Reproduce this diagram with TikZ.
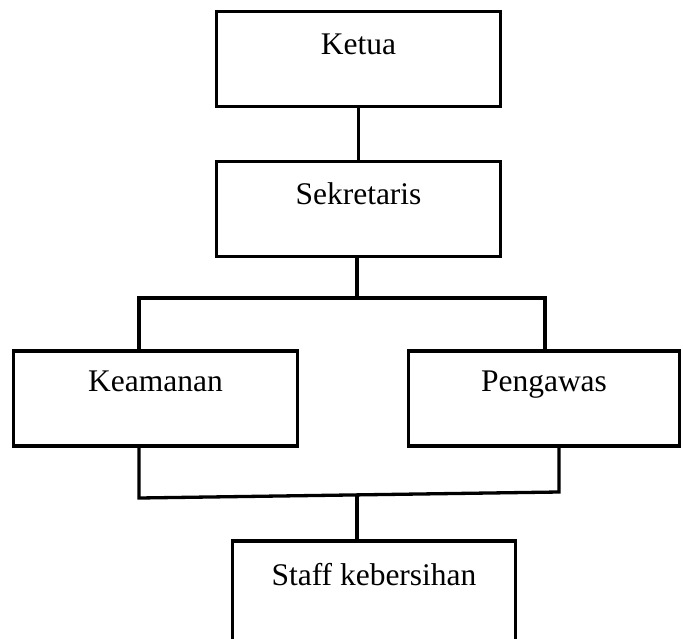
\documentclass[tikz,border=0pt]{standalone}
\usepackage{fontspec}
\setmainfont{Liberation Serif}
\begin{document}
\begin{tikzpicture}[x=1pt,y=-1pt,
    box/.style={draw,line width=3.3pt,inner sep=0pt,minimum width=284pt,text height=43pt,text depth=52pt,font=\fontsize{31.5}{38}\selectfont},
    link/.style={line width=3.3pt}]
  \useasboundingbox (0,0) rectangle (683,638);
  \node[box] (ketua) at (358.5,59) {Ketua};
  \node[box] (sekretaris) at (358.5,209) {Sekretaris};
  \node[box,text height=40pt,text depth=55pt] (keamanan) at (155.5,398.5) {Keamanan};
  \node[box,minimum width=271pt,text height=40pt,text depth=55pt] (pengawas) at (544,398.5) {Pengawas};
  \node[box,minimum width=283pt,text height=44pt,text depth=60pt] (staff) at (374,593) {Staff kebersihan};
  % fork below Sekretaris
  \coordinate (forkL) at (139,298);
  \coordinate (forkM) at (357,298);
  \coordinate (forkR) at (545,298);
  % join above Staff
  \coordinate (joinL) at (139,498);
  \coordinate (joinM) at (357,495);
  \coordinate (joinR) at (559,492);
  \draw[link] (ketua) -- (sekretaris);
  \draw[link] (sekretaris.south -| forkM) -- (forkM);
  \draw[link] (keamanan.north -| forkL) -- (forkL) -- (forkR) -- (pengawas.north -| forkR);
  \draw[link] (keamanan.south -| joinL) -- (joinL) -- (joinR) -- (pengawas.south -| joinR);
  \draw[link] (joinM) -- (staff.north -| joinM);
\end{tikzpicture}
\end{document}
